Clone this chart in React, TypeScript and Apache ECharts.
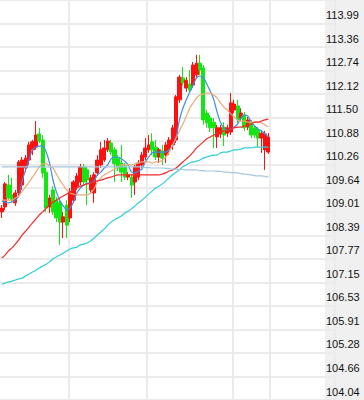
import React, { useEffect, useRef } from "react";
import * as echarts from "echarts";

// [open, close, low, high]
const candles: number[][] = [
  [109.01, 109.11, 108.85, 109.19],
  [109.14, 109.75, 109.06, 109.8],
  [109.72, 109.38, 109.32, 109.99],
  [109.46, 109.32, 109.25, 109.91],
  [109.25, 109.51, 109.17, 109.59],
  [109.51, 110.33, 109.43, 110.38],
  [109.72, 110.38, 109.59, 110.46],
  [110.17, 110.43, 110.06, 110.51],
  [110.38, 110.78, 110.25, 110.86],
  [110.65, 110.86, 110.51, 110.91],
  [110.72, 111.04, 110.65, 111.41],
  [111.07, 110.88, 110.83, 111.23],
  [110.91, 110.04, 109.91, 111.04],
  [110.06, 109.11, 109.01, 110.17],
  [109.14, 109.38, 108.98, 109.46],
  [109.59, 109.01, 108.93, 109.69],
  [109.32, 108.85, 108.74, 109.4],
  [109.25, 108.74, 108.14, 109.32],
  [108.74, 108.88, 108.32, 109.01],
  [109.19, 108.66, 108.32, 109.32],
  [108.85, 109.54, 108.74, 109.64],
  [109.32, 109.8, 109.25, 109.85],
  [109.69, 109.96, 109.59, 110.04],
  [109.8, 110.2, 109.72, 110.28],
  [110.2, 109.8, 109.72, 110.28],
  [110.12, 109.85, 109.19, 110.2],
  [109.59, 109.91, 109.51, 109.99],
  [109.51, 109.99, 109.25, 110.06],
  [110.04, 110.38, 109.96, 110.51],
  [110.25, 110.65, 110.17, 110.86],
  [110.38, 110.7, 110.33, 110.91],
  [110.65, 110.88, 110.59, 110.96],
  [110.83, 110.59, 110.51, 110.91],
  [110.65, 110.28, 109.8, 110.72],
  [110.43, 110.17, 110.09, 110.51],
  [110.3, 110.06, 109.8, 110.78],
  [110.22, 109.93, 109.85, 110.3],
  [109.93, 109.99, 109.85, 110.06],
  [109.93, 109.72, 109.38, 110.01],
  [109.8, 110.2, 109.46, 110.25],
  [109.93, 110.3, 109.85, 110.38],
  [110.25, 110.51, 110.17, 110.59],
  [110.46, 110.7, 110.38, 110.96],
  [110.65, 110.78, 110.57, 111.04],
  [110.86, 110.65, 110.51, 111.09],
  [110.72, 110.46, 110.38, 110.91],
  [110.46, 110.65, 110.3, 110.7],
  [110.62, 110.43, 110.25, 110.78],
  [110.51, 110.78, 110.3, 110.86],
  [110.65, 110.91, 110.51, 110.99],
  [110.78, 111.23, 110.65, 111.31],
  [110.91, 112.05, 110.83, 112.1],
  [111.97, 112.57, 111.89, 112.63],
  [112.55, 112.42, 112.34, 112.84],
  [112.28, 112.49, 112.18, 112.57],
  [112.39, 112.23, 112.15, 112.76],
  [112.36, 112.89, 112.28, 112.97],
  [112.63, 112.94, 112.55, 113.16],
  [112.94, 112.76, 112.63, 113.16],
  [112.81, 111.44, 111.31, 112.89],
  [111.62, 111.36, 111.23, 111.7],
  [111.49, 111.23, 111.12, 111.57],
  [111.38, 111.23, 110.7, 111.49],
  [110.99, 111.23, 110.7, 111.31],
  [111.07, 111.23, 110.96, 111.31],
  [111.25, 111.04, 110.75, 111.38],
  [111.09, 111.23, 110.99, 111.31],
  [111.12, 111.89, 111.04, 112.15],
  [111.7, 111.86, 111.62, 111.97],
  [111.81, 111.44, 111.36, 111.97],
  [111.49, 111.62, 111.41, 111.75],
  [111.57, 111.23, 111.15, 111.65],
  [111.25, 111.44, 111.17, 111.52],
  [111.36, 111.04, 110.96, 111.44],
  [111.23, 111.04, 110.96, 111.31],
  [111.17, 110.96, 110.72, 111.25],
  [110.96, 111.09, 110.57, 111.17],
  [110.65, 111.07, 110.12, 111.15],
  [110.59, 110.99, 110.54, 111.09],
];

const ma5 = [
  109.3, 109.27, 109.25, 109.27, 109.32, 109.43, 109.83, 110.12, 110.38, 110.65,
  110.72, 110.75, 110.75, 110.59, 110.3, 109.85, 109.54, 109.32, 109.17, 109.06,
  109.11, 109.27, 109.51, 109.64, 109.72, 109.77, 109.77, 109.83, 109.99, 110.06,
  110.17, 110.25, 110.41, 110.46, 110.46, 110.41, 110.35, 110.25, 110.06, 110.04,
  110.09, 110.14, 110.33, 110.46, 110.57, 110.59, 110.59, 110.59, 110.59, 110.65,
  110.75, 110.99, 111.44, 111.75, 111.97, 112.18, 112.36, 112.55, 112.6, 112.55,
  112.39, 112.2, 111.99, 111.65, 111.38, 111.23, 111.17, 111.2, 111.25, 111.33,
  111.49, 111.57, 111.54, 111.38, 111.28, 111.2, 111.15, 111.07, 110.99,
];

const ma10 = [
  109.32, 109.32, 109.32, 109.32, 109.38, 109.43, 109.56, 109.67, 109.8, 109.93,
  110.06, 110.2, 110.28, 110.28, 110.22, 110.17, 110.01, 109.85, 109.72, 109.59,
  109.51, 109.48, 109.46, 109.46, 109.46, 109.46, 109.51, 109.62, 109.8, 109.91,
  109.99, 110.04, 110.09, 110.14, 110.2, 110.25, 110.25, 110.25, 110.25, 110.28,
  110.3, 110.33, 110.33, 110.33, 110.3, 110.33, 110.33, 110.38, 110.46, 110.59,
  110.78, 110.96, 111.15, 111.33, 111.54, 111.75, 111.89, 112.02, 112.1, 112.12,
  112.15, 112.15, 112.1, 112.02, 111.89, 111.78, 111.7, 111.6, 111.52, 111.44,
  111.41, 111.41, 111.38, 111.38, 111.38, 111.38, 111.36, 111.31, 111.25,
];

const ma20 = [
  107.79, 107.87, 107.98, 108.06, 108.16, 108.27, 108.4, 108.5, 108.61, 108.72,
  108.82, 108.93, 109.01, 109.11, 109.19, 109.27, 109.32, 109.38, 109.43, 109.48,
  109.54, 109.59, 109.64, 109.69, 109.72, 109.75, 109.77, 109.8, 109.83, 109.85,
  109.88, 109.91, 109.93, 109.96, 109.99, 109.99, 109.99, 109.99, 109.99, 109.99,
  109.99, 109.99, 109.99, 109.99, 109.99, 109.99, 109.99, 110.01, 110.04, 110.09,
  110.12, 110.17, 110.25, 110.33, 110.41, 110.49, 110.59, 110.7, 110.78, 110.86,
  110.94, 110.99, 111.04, 111.09, 111.12, 111.15, 111.17, 111.2, 111.23, 111.25,
  111.25, 111.28, 111.31, 111.33, 111.38, 111.38, 111.41, 111.44, 111.46,
];

const ma60 = [
  107.1, 107.13, 107.16, 107.18, 107.21, 107.24, 107.26, 107.32, 107.37, 107.42,
  107.47, 107.53, 107.58, 107.63, 107.69, 107.77, 107.82, 107.87, 107.92, 107.98,
  108.03, 108.06, 108.08, 108.14, 108.16, 108.19, 108.24, 108.32, 108.4, 108.48,
  108.56, 108.66, 108.74, 108.8, 108.85, 108.9, 108.98, 109.03, 109.09, 109.17,
  109.25, 109.32, 109.4, 109.48, 109.56, 109.64, 109.69, 109.75, 109.83, 109.91,
  109.99, 110.06, 110.12, 110.2, 110.25, 110.3, 110.33, 110.35, 110.38, 110.43,
  110.46, 110.49, 110.51, 110.51, 110.57, 110.59, 110.59, 110.62, 110.65, 110.65,
  110.67, 110.7, 110.7, 110.7, 110.72, 110.72, 110.72, 110.72, 110.72,
];

const ma120 = [
  110.2, 110.2, 110.2, 110.2, 110.2, 110.2, 110.2, 110.2, 110.2, 110.2,
  110.2, 110.2, 110.2, 110.2, 110.2, 110.2, 110.2, 110.2, 110.2, 110.2,
  110.2, 110.2, 110.2, 110.2, 110.2, 110.2, 110.2, 110.2, 110.2, 110.2,
  110.2, 110.2, 110.2, 110.2, 110.2, 110.2, 110.2, 110.2, 110.2, 110.2,
  110.2, 110.2, 110.18, 110.18, 110.17, 110.17, 110.17, 110.17, 110.16, 110.16,
  110.14, 110.14, 110.13, 110.13, 110.12, 110.12, 110.12, 110.12, 110.1, 110.1,
  110.09, 110.09, 110.09, 110.08, 110.08, 110.06, 110.06, 110.05, 110.05, 110.04,
  110.02, 110.01, 110.0, 109.99, 109.97, 109.96, 109.96, 109.95, 109.93,
];

// y-axis scale (labels 104.04 ... 113.99)
const axisMin = 104.0408;
const axisStep = 0.6216;
const axisMax = 114.608;

// total slots on the x axis (trailing slots are empty)
const slotCount = 98;
const categories = Array.from({ length: slotCount }, (_, i) => String(i + 1));
const dayBreaks = [20, 43, 68, 79];

export default function App() {
  const ref = useRef<HTMLDivElement>(null);
  useEffect(() => {
    if (!ref.current) return;
    const chart = echarts.init(ref.current, null, { renderer: "svg" });
    const line = (name: string, data: number[], color: string) => ({
      name,
      type: "line",
      data,
      showSymbol: false,
      smooth: 0.3,
      lineStyle: { color, width: 1.2 },
      itemStyle: { color },
      silent: true,
      z: 3,
    });
    chart.setOption({
      animation: false,
      backgroundColor: "#ffffff",
      graphic: [
        {
          type: "rect",
          left: 325,
          top: 0,
          shape: { width: 39, height: 400 },
          style: { fill: "#f0f0f0" },
          z: -10,
          silent: true,
        },
      ],
      grid: { left: 0, right: 29, top: 0, bottom: 0 },
      xAxis: {
        type: "category",
        data: categories,
        boundaryGap: true,
        axisLine: { show: false },
        axisTick: { show: false },
        axisLabel: { show: false },
        splitLine: {
          show: true,
          interval: (i: number) => dayBreaks.includes(i),
          lineStyle: { color: "#ebebeb", width: 2 },
        },
      },
      yAxis: {
        type: "value",
        position: "right",
        min: axisMin,
        max: axisMax,
        interval: axisStep,
        scale: true,
        axisLine: { show: false },
        axisTick: { show: false },
        splitLine: { show: true, lineStyle: { color: "#ebebeb", width: 2 } },
        axisLabel: {
          show: true,
          showMaxLabel: false,
          margin: -9,
          color: "#111",
          fontFamily: "Liberation Sans",
          fontSize: 11,
          verticalAlign: "bottom",
          padding: [0, 0, 3, 0],
          formatter: (v: number) => v.toFixed(2),
        },
      },
      series: [
        {
          type: "candlestick",
          data: candles,
          barWidth: 3.6,
          silent: true,
          itemStyle: {
            color: "#ff1010",
            color0: "#14e614",
            borderColor: "#ff1010",
            borderColor0: "#14e614",
            borderWidth: 1,
          },
          z: 2,
        },
        line("MA5", ma5, "#3a8ee6"),
        line("MA10", ma10, "#e8a97a"),
        line("MA20", ma20, "#f22a2a"),
        line("MA60", ma60, "#30cdd6"),
        line("MA120", ma120, "#a6c6de"),
      ],
    });
    return () => chart.dispose();
  }, []);
  return (
    <div
      ref={ref}
      style={{ position: "fixed", left: 0, top: 0, width: 364, height: 400 }}
    />
  );
}
